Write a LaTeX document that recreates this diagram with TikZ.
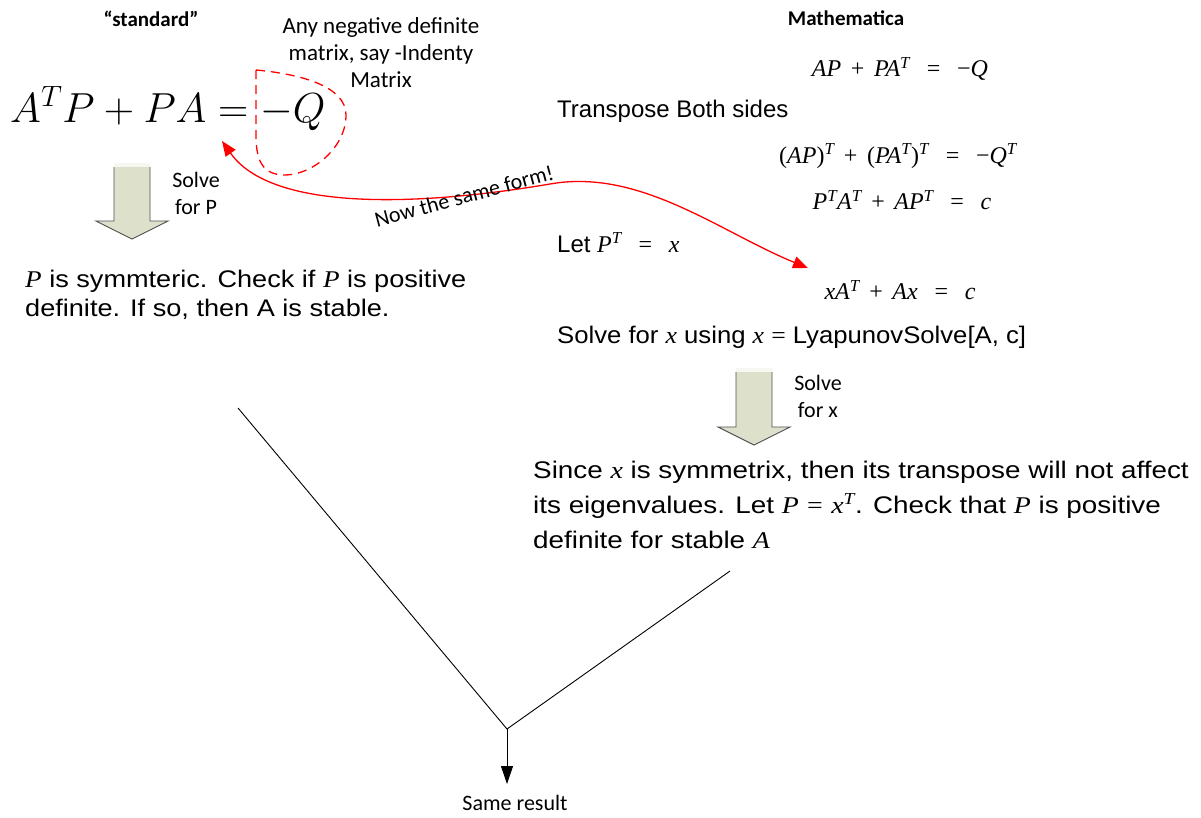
\RequirePackage{fix-cm}
\documentclass[tikz,border=0pt]{standalone}
\usepackage{fontspec}
\setmainfont{Liberation Sans}
\newfontfamily\calib{Carlito}
\newfontfamily\tms{Liberation Serif}
\usetikzlibrary{arrows.meta}
\definecolor{barrow}{RGB}{221,224,203}
\definecolor{bedge}{RGB}{80,80,80}
\newcommand\vi[1]{{\tms\itshape #1}}
\newcommand\vsup[1]{\textsuperscript{\tms\itshape #1}}
\newcommand\EQ{\hspace{0.7em}=\hspace{0.7em}}
\newcommand\PL{\hspace{0.4em}+\hspace{0.4em}}
\begin{document}
\begin{tikzpicture}[x=1pt,y=-1pt,
  lbl/.style={font=\calib\fontsize{22}{27}\selectfont, inner sep=0pt, align=center},
  hdr/.style={font=\calib\bfseries\fontsize{21}{25}\selectfont, inner sep=0pt},
  body/.style={font=\fontsize{24}{35}\selectfont, inner sep=0pt, anchor=base west},
  eqn/.style={font=\tms\fontsize{24}{28}\selectfont, inner sep=0pt},
  redline/.style={draw=red, line width=1.3pt},
  blk/.style={draw=bedge, line width=0.9pt, line join=miter}
]
\useasboundingbox (0,0) rectangle (1201,817);

% headers
\node[hdr] (std) at (151,19) {“standard”};
\node[hdr] (mma) at (846,18) {Mathematica};

% big equation
\node[inner sep=0pt, anchor=base west, font=\fontsize{42}{50}\selectfont] (bigeq) at (10,122) {$A^TP+PA=-Q$};

% note
\node[lbl, font=\calib\fontsize{23}{27}\selectfont] (note) at (381,53) {Any negative definite\\matrix, say -Indenty\\Matrix};

% dashed loop around -Q
\draw[redline, dash pattern=on 9pt off 6pt] (256,70) .. controls (300,74) and (346,86) .. (346,115)
  .. controls (346,148) and (312,175) .. (285,175) .. controls (262,175) and (256,160) .. (256,135) -- cycle;

% left block arrow
\fill[barrow] (114,163) -- (150,163) -- (150,221) -- (168,221) -- (132,239) -- (96,221) -- (114,221) -- cycle;
\fill[white!75!barrow] (114,163) rectangle (150,167);
\draw[blk] (114,167) -- (114,221) -- (96,221) -- (132,239) -- (168,221) -- (150,221) -- (150,167);
\node[lbl] (solveP) at (196,193) {Solve\\for P};

% left result text
\node[body] (leftres1) at (25,287) {\scalebox{1.13}[1]{\vi{P} is symmteric. Check if \vi{P} is positive}};
\node[body] (leftres2) at (25,316) {\scalebox{1.13}[1]{definite. If so, then A is stable.}};

% right column
\node[eqn] (e1) at (900,69) {\vi{AP}\PL\vi{PA}\vsup{T}\EQ−\vi{Q}};
\node[body] (trans) at (557,117) {Transpose Both sides};
\node[eqn] (e2) at (898,156) {(\vi{AP})\vsup{T}\PL(\vi{PA}\vsup{T})\vsup{T}\EQ−\vi{Q}\vsup{T}};
\node[eqn] (e3) at (902,200) {\vi{P}\vsup{T}\vi{A}\vsup{T}\PL\vi{AP}\vsup{T}\EQ\vi{c}};
\node[body] (letp) at (557,252) {Let \vi{P}\vsup{T}{\tms\EQ}\vi{x}};
\node[eqn] (xeq) at (900,290) {\vi{xA}\vsup{T}\PL\vi{Ax}\EQ\vi{c}};
\node[body] (solvex) at (557,343) {\scalebox{1.07}[1]{Solve for \vi{x} using \vi{x} {\tms=} LyapunovSolve[A, c]}};

% right block arrow
\fill[barrow] (736,368) -- (772,368) -- (772,427) -- (790,427) -- (754,445) -- (718,427) -- (736,427) -- cycle;
\fill[white!75!barrow] (736,368) rectangle (772,372);
\draw[blk] (736,372) -- (736,427) -- (718,427) -- (754,445) -- (790,427) -- (772,427) -- (772,372);
\node[lbl] (solveX) at (818,396) {Solve\\for x};

\node[body] (rightres1) at (533,478) {\scalebox{1.16}[1]{Since \vi{x} is symmetrix, then its transpose will not affect}};
\node[body] (rightres2) at (533,513) {\scalebox{1.16}[1]{its eigenvalues. Let \vi{P}{\tms\hspace{0.3em}=\hspace{0.3em}}\vi{x}\vsup{T}. Check that \vi{P} is positive}};
\node[body] (rightres3) at (533,548) {\scalebox{1.16}[1]{definite for stable \vi{A}}};

% red double arrow
\coordinate (ca) at (222,141);
\coordinate (cm) at (550,184);
\coordinate (cb) at (808,268);
\draw[redline, {Triangle[length=15pt,width=12pt]}-{Triangle[length=15pt,width=12pt]}]
  (ca) .. controls (272,212) and (420,206) .. (cm) .. controls (640,168) and (720,232) .. (cb);
\node[lbl, rotate=15] (same) at (464,196) {Now the same form!};

% merge lines
\coordinate (lstart) at (238,408);
\coordinate (rstart) at (730,571);
\coordinate (join) at (507,729);
\node[lbl] (result) at (515,803) {Same result};
\draw[line width=0.9pt] (lstart) -- (join) -- (rstart);
\draw[line width=0.9pt, -{Triangle[length=18pt,width=12pt]}] (join) -- (join |- 0,784);
\end{tikzpicture}
\end{document}
